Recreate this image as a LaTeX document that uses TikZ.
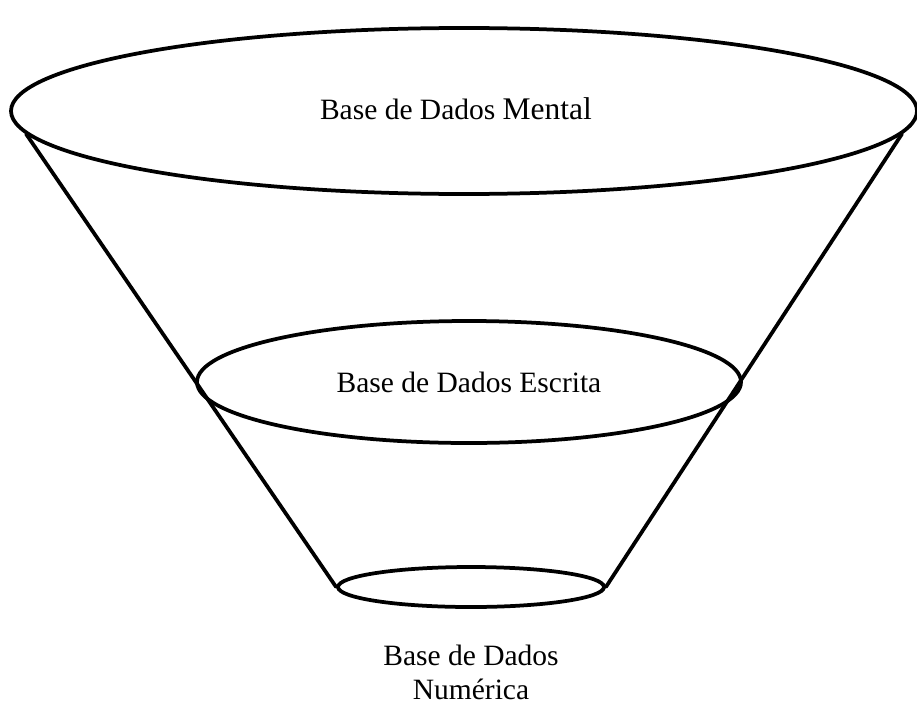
\documentclass[tikz,border=0pt]{standalone}
\usepackage{fontspec}
\setmainfont{Liberation Serif}
\usetikzlibrary{shapes.geometric, positioning}

\begin{document}
\begin{tikzpicture}[
  x=0.4pt, y=-0.4pt,
  base/.style={ellipse, draw, line width=1.5pt, inner sep=0pt,
               font=\fontsize{11.8}{13.6}\selectfont},
  rotulo/.style={font=\fontsize{11.8}{13.6}\selectfont, align=center},
  funil/.style={line width=1.5pt, line cap=round},
]
\useasboundingbox (0,0) rectangle (917,706);

%% Bases de dados (ellipses)
\node[base, minimum width=362.4pt, minimum height=66.4pt] (mental) at (464,111) {};
\node[base, minimum width=217.6pt, minimum height=48.8pt] (escrita) at (469,382)
      {Base de Dados Escrita};
\node[base, minimum width=106.4pt, minimum height=16pt] (numerica) at (471,587) {};

%% Funnel sides
\draw[funil] (mental.183) -- (numerica.west);
\draw[funil] (mental.357) -- (numerica.east);

%% Labels
\node[rotulo] (tmental) at (456,109)
      {Base de Dados {\fontsize{12.6}{14}\selectfont Mental}};
\node[rotulo, inner sep=1pt] (tnumerica) at (471,672) {Base de Dados\\ Numérica};

\end{tikzpicture}
\end{document}
